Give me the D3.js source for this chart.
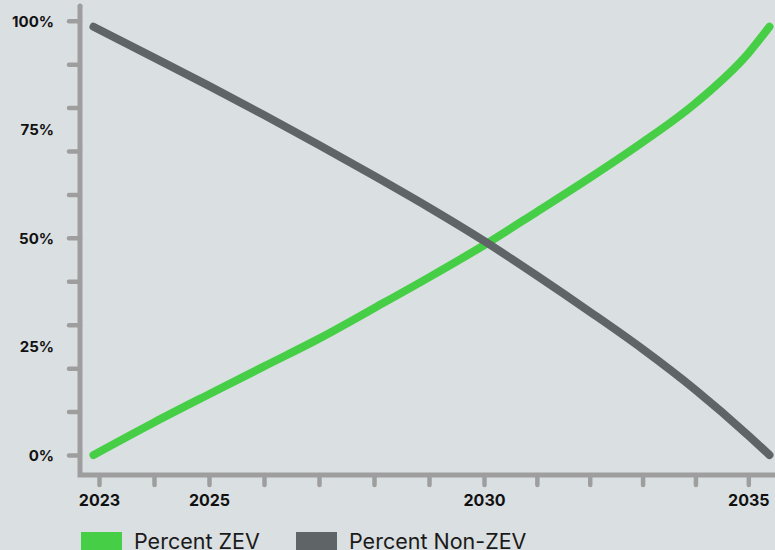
<!DOCTYPE html>
<html>
<head>
<meta charset="utf-8">
<script src="https://cdn.jsdelivr.net/npm/d3@7"></script>
<style>
  html, body { margin: 0; padding: 0; background: #dadfe1; overflow: hidden; }
  svg { display: block; }
  .lbl { font-family: Inter, "Open Sans", sans-serif; font-weight: 700; fill: #111; }
  .leg { font-family: Inter, "Open Sans", sans-serif; font-weight: 400; fill: #1a1a1a; }
</style>
</head>
<body>
<svg id="chart" width="775" height="550"></svg>
<script>
// Years along the curve (first and last points sit just outside the labelled years)
const years = [2022.9, 2024, 2025, 2026, 2027, 2028, 2029, 2030, 2031, 2032, 2033, 2034, 2035, 2035.4];
// Share of new sales, percent
const zevShare    = [0, 7.5, 14.0, 20.4, 26.8, 33.8, 40.9, 48.3, 56.0, 63.8, 72.0, 81.0, 92.5, 98.6];
const nonZevShare = [98.6, 91.5, 85.0, 78.3, 71.4, 64.3, 57.0, 49.3, 41.3, 33.0, 24.4, 15.0, 4.5, 0];

const yTickValues  = [0, 10, 20, 30, 40, 50, 60, 70, 80, 90, 100];
const yLabelValues = [0, 25, 50, 75, 100];
const xTickValues  = [2023, 2024, 2025, 2026, 2027, 2028, 2029, 2030, 2031, 2032, 2033, 2034, 2035];
const xLabelValues = [2023, 2025, 2030, 2035];

const seriesNames  = ["Percent ZEV", "Percent Non-ZEV"];
const seriesColors = ["#46cf46", "#5f6467"];

const axisColor = "#9e9e9e";
const svg = d3.select("#chart");

const x = d3.scaleLinear().domain([2023, 2030, 2035]).range([99, 484, 748.3]);
const y = d3.scaleLinear().domain([0, 100]).range([455, 20.7]);

const axisX = 80, axisY = 475;

// Y axis: minor ticks every 10%, labels every 25%
const yTicks = svg.append("g").attr("transform", `translate(${axisX},0)`)
  .call(d3.axisLeft(y).tickValues(yTickValues).tickSize(12).tickFormat(""));
yTicks.select(".domain").remove();
yTicks.selectAll(".tick line")
  .attr("stroke", axisColor).attr("stroke-width", 4.5).attr("stroke-linecap", "round")
  .attr("x1", 0).attr("x2", -11);

const yLabels = svg.append("g").attr("transform", `translate(${axisX - 26},0)`)
  .call(d3.axisLeft(y).tickValues(yLabelValues).tickSize(0).tickFormat(d => d + "%"));
yLabels.select(".domain").remove();
yLabels.selectAll("text").attr("class", "lbl").attr("font-size", 15)
  .attr("x", 0).attr("dy", "0.36em");

// X axis: a tick per year, labels on selected years
const xTicks = svg.append("g").attr("transform", `translate(0,${axisY})`)
  .call(d3.axisBottom(x).tickValues(xTickValues).tickSize(11)
    .tickFormat(d => xLabelValues.includes(d) ? String(d) : ""));
xTicks.select(".domain").remove();
xTicks.selectAll(".tick line")
  .attr("stroke", axisColor).attr("stroke-width", 4.5).attr("stroke-linecap", "round")
  .attr("y1", 0).attr("y2", 10);
xTicks.selectAll("text").attr("class", "lbl").attr("font-size", 16)
  .attr("y", 31).attr("dy", "0");

// Axis lines forming an L
svg.append("path")
  .attr("d", `M${axisX},6 L${axisX},${axisY} L775,${axisY}`)
  .attr("fill", "none").attr("stroke", axisColor).attr("stroke-width", 5)
  .attr("stroke-linejoin", "miter");
svg.append("circle").attr("cx", axisX).attr("cy", 6).attr("r", 2.5).attr("fill", axisColor);

// Curves
const line = d3.line()
  .x(d => x(d[0])).y(d => y(d[1]))
  .curve(d3.curveMonotoneX);

[zevShare, nonZevShare].forEach((vals, i) => {
  svg.append("path")
    .datum(years.map((yr, j) => [yr, vals[j]]))
    .attr("d", line)
    .attr("fill", "none")
    .attr("stroke", seriesColors[i])
    .attr("stroke-width", 8)
    .attr("stroke-linecap", "round")
    .attr("stroke-linejoin", "round");
});

// Legend
const legendX = [81, 296];
seriesNames.forEach((name, i) => {
  const g = svg.append("g").attr("transform", `translate(${legendX[i]},532)`);
  g.append("rect").attr("width", 41).attr("height", 22).attr("fill", seriesColors[i]);
  g.append("text").attr("class", "leg").attr("x", 53).attr("y", 17)
    .attr("font-size", 21.5).text(name);
});
</script>
</body>
</html>
